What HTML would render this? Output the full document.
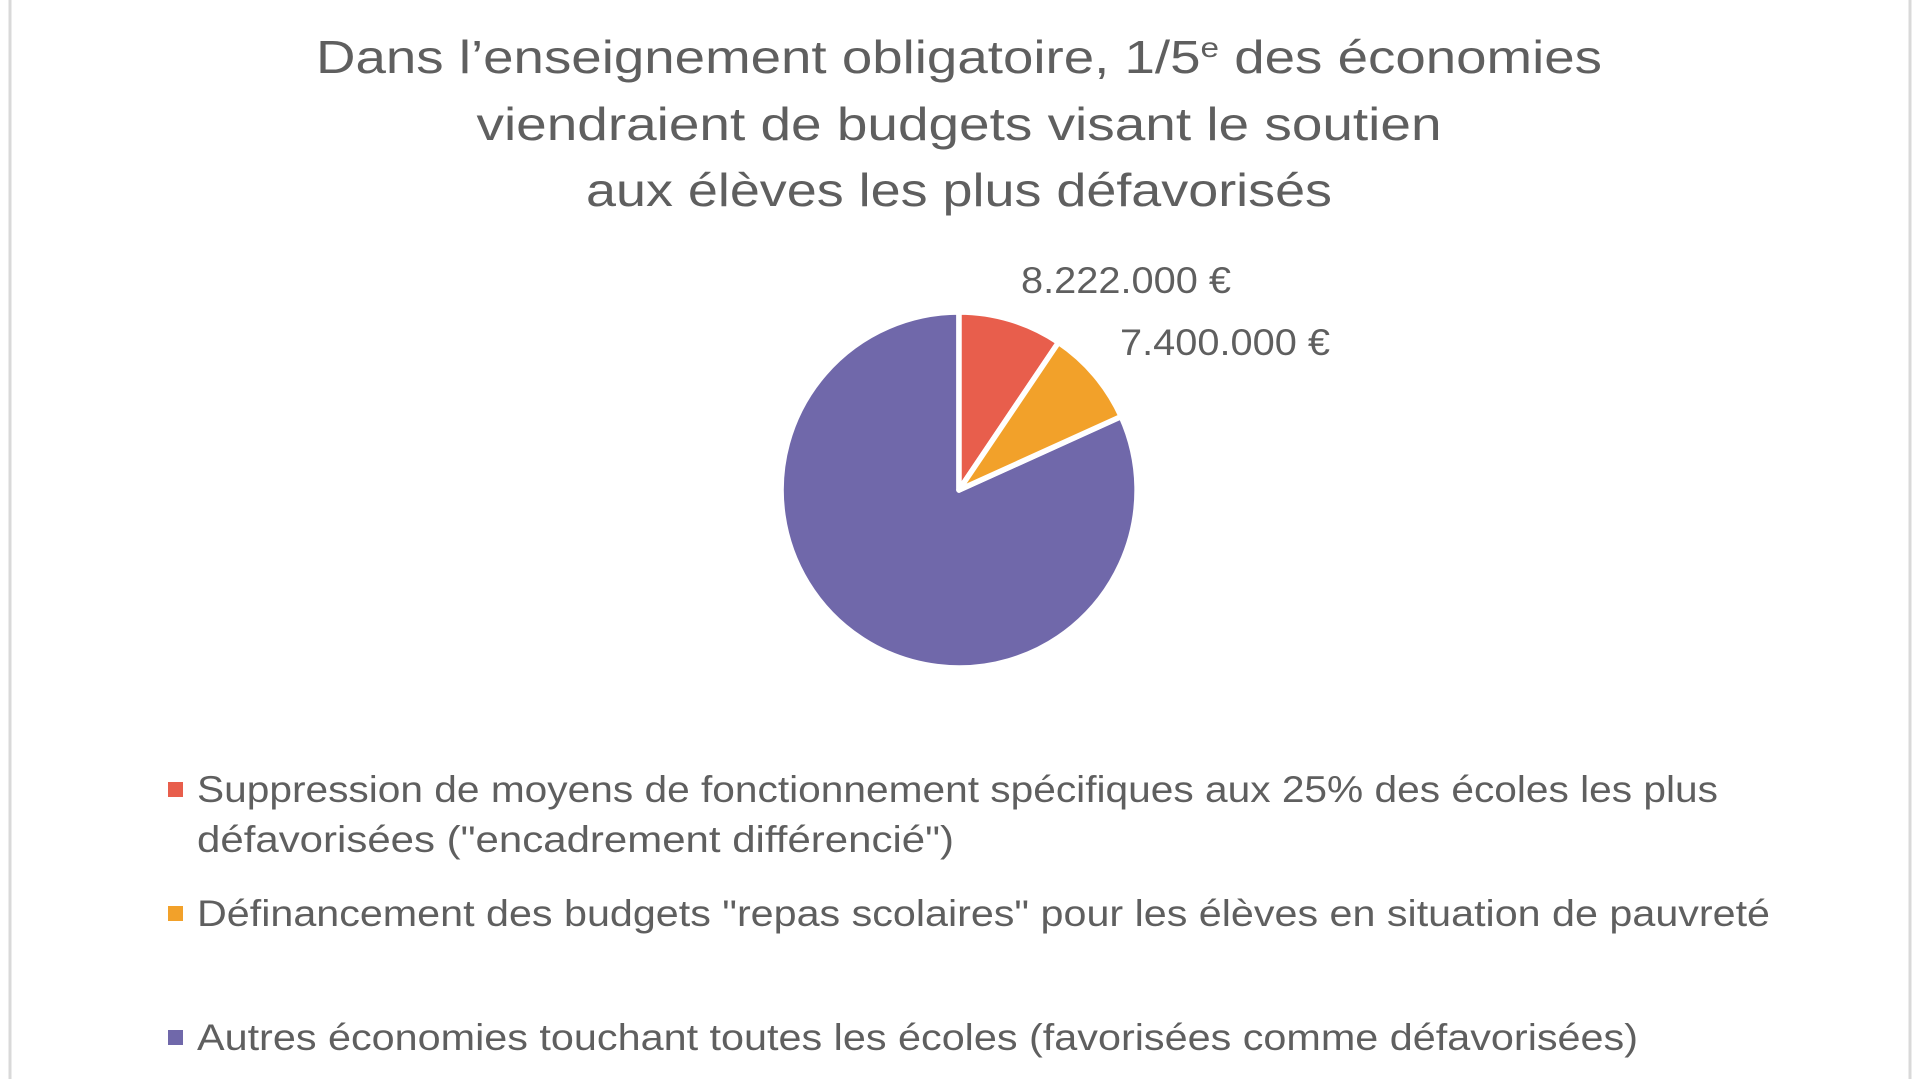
<!DOCTYPE html>
<html><head><meta charset="utf-8"><style>
html,body{margin:0;padding:0;background:#fff;}
svg{display:block;}
text{font-family:"Liberation Sans",sans-serif;fill:#5f5f5f;}
</style></head><body>
<svg width="1920" height="1079" viewBox="0 0 1920 1079">
<rect x="0" y="0" width="1920" height="1079" fill="#fff"/>
<line x1="10" y1="0" x2="10" y2="1079" stroke="#d9d9d9" stroke-width="3"/>
<line x1="1910" y1="0" x2="1910" y2="1079" stroke="#d9d9d9" stroke-width="3"/>
<g font-size="46" text-anchor="middle">
<text x="959" y="73" textLength="1286" lengthAdjust="spacingAndGlyphs">Dans l’enseignement obligatoire, 1/5<tspan font-size="28" dy="-16">e</tspan><tspan dy="16"> des économies</tspan></text>
<text x="959" y="140" textLength="965" lengthAdjust="spacingAndGlyphs">viendraient de budgets visant le soutien</text>
<text x="959" y="206" textLength="746" lengthAdjust="spacingAndGlyphs">aux élèves les plus défavorisés</text>
</g>
<g stroke="#fff" stroke-width="5.5" stroke-linejoin="round">
<path d="M959,490 L1121.2,416.5 A178,178 0 1,1 959,312 Z" fill="#7068aa"/>
<path d="M959,490 L959,312 A178,178 0 0,1 1058.5,342.4 Z" fill="#e85e4c"/>
<path d="M959,490 L1058.5,342.4 A178,178 0 0,1 1121.2,416.5 Z" fill="#f2a12a"/>
</g>
<g font-size="37">
<text x="1021" y="293" textLength="210" lengthAdjust="spacingAndGlyphs">8.222.000 €</text>
<text x="1120" y="355" textLength="210" lengthAdjust="spacingAndGlyphs">7.400.000 €</text>
</g>
<rect x="168" y="782" width="15" height="15" fill="#e85e4c"/>
<rect x="168" y="906" width="15" height="15" fill="#f2a12a"/>
<rect x="168" y="1030" width="15" height="15" fill="#7068aa"/>
<g font-size="37">
<text x="197" y="802" textLength="1521" lengthAdjust="spacingAndGlyphs">Suppression de moyens de fonctionnement spécifiques aux 25% des écoles les plus</text>
<text x="197" y="852" textLength="757" lengthAdjust="spacingAndGlyphs">défavorisées ("encadrement différencié")</text>
<text x="197" y="926" textLength="1573" lengthAdjust="spacingAndGlyphs">Définancement des budgets "repas scolaires" pour les élèves en situation de pauvreté</text>
<text x="197" y="1050" textLength="1441" lengthAdjust="spacingAndGlyphs">Autres économies touchant toutes les écoles (favorisées comme défavorisées)</text>
</g>
</svg>
</body></html>
